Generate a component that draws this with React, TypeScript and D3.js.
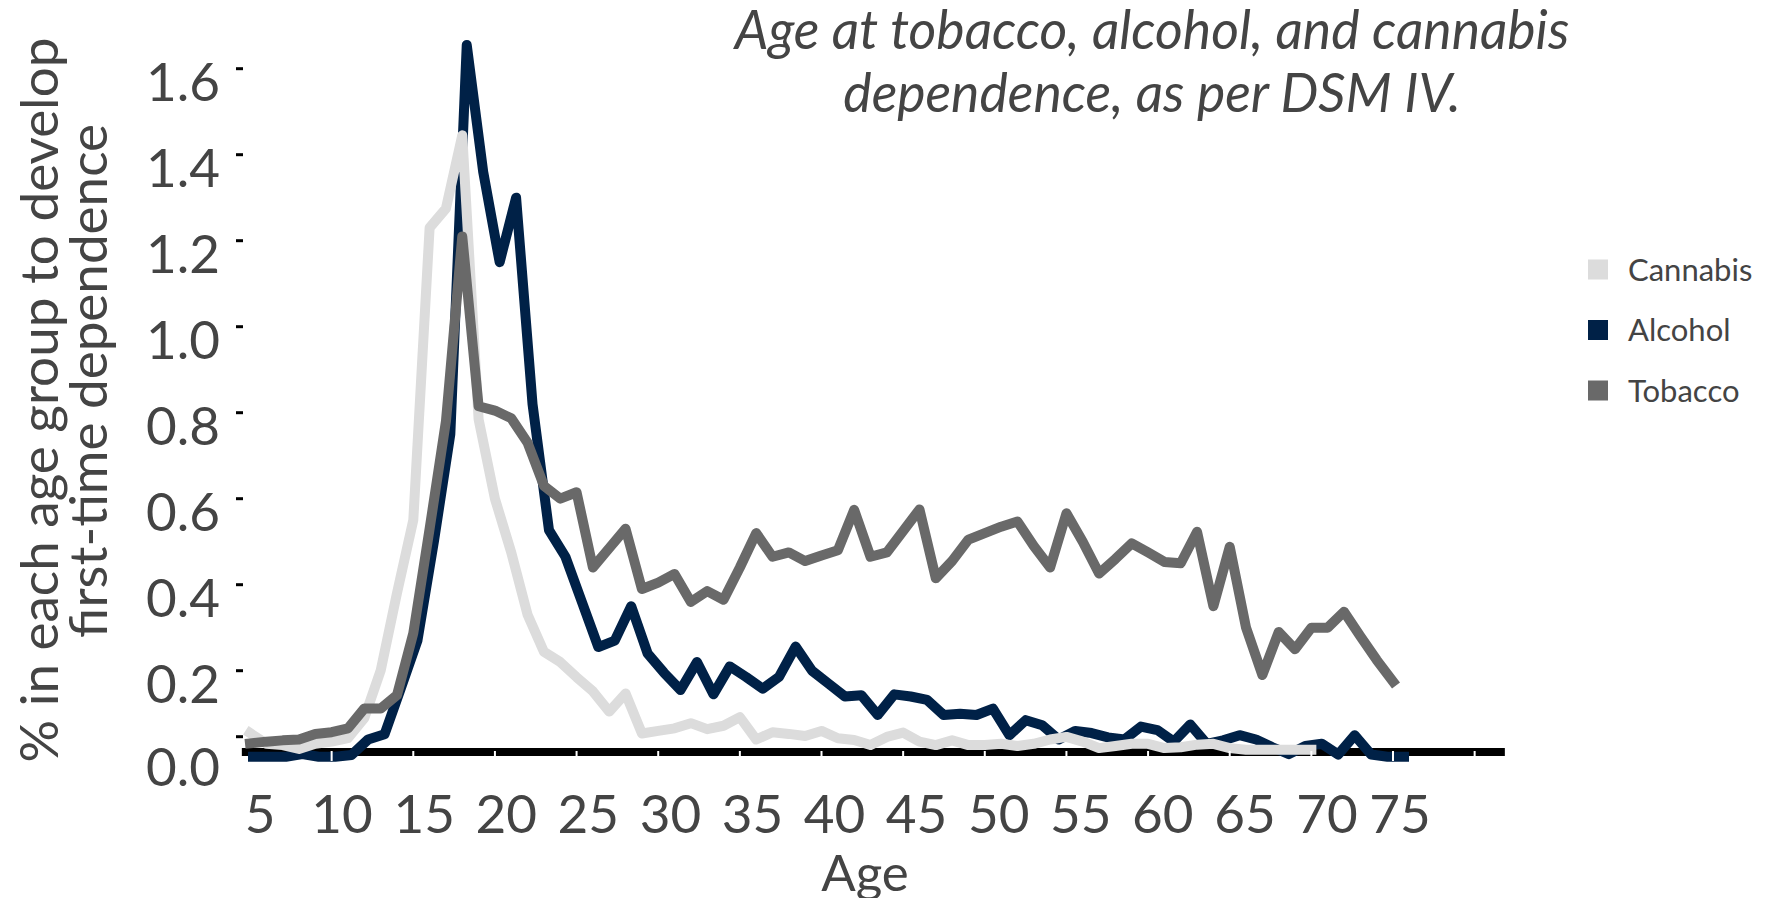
import React from "react";
import * as d3 from "d3";

// ---------- data ----------
const tobaccoAges = [5,6,7,8,9,10,11,12,13,14,15,16,17,18,19,20,21,22,23,24,25,26,27,28,29,30,31,32,33,34,35,36,37,38,39,40,41,42,43,44,45,46,47,48,49,50,51,52,53,54,55,56,57,58,59,60,61,62,63,64,65,66,67,68,69,70,71,72,73,74,75];
const tobaccoValues = [0.031,0.035,0.038,0.040,0.053,0.057,0.066,0.112,0.112,0.143,0.287,0.53,0.78,1.21,0.815,0.805,0.787,0.73,0.63,0.60,0.615,0.44,0.485,0.53,0.39,0.405,0.425,0.36,0.385,0.365,0.44,0.52,0.465,0.475,0.455,0.468,0.48,0.574,0.465,0.475,0.525,0.575,0.415,0.455,0.505,0.52,0.535,0.547,0.49,0.44,0.566,0.50,0.426,0.46,0.496,0.475,0.453,0.45,0.523,0.35,0.488,0.30,0.19,0.29,0.25,0.30,0.30,0.337,0.28,0.225,0.175];

const alcoholAges = [5,6,7,8,9,10,11,12,13,14,15,16,17,18,19,20,21,22,23,24,25,26,27,28,29,30,31,32,33,34,35,36,37,38,39,40,41,42,43,44,45,46,47,48,49,50,51,52,53,54,55,56,57,58,59,60,61,62,63,64,65,66,67,68,69,70,71,72,73,74,75];
const alcoholValues = [0,0,0,0.006,0,0,0.004,0.04,0.052,0.16,0.27,0.50,0.75,1.655,1.36,1.15,1.30,0.82,0.527,0.465,0.36,0.255,0.27,0.35,0.24,0.195,0.155,0.22,0.145,0.21,0.185,0.158,0.186,0.256,0.2,0.17,0.14,0.143,0.097,0.145,0.14,0.132,0.097,0.1,0.097,0.112,0.05,0.085,0.073,0.04,0.06,0.055,0.045,0.04,0.07,0.062,0.035,0.075,0.03,0.038,0.05,0.04,0.022,0.006,0.025,0.03,0.005,0.05,0.005,0,0];

const cannabisAges = [5,6,7,8,9,10,11,12,13,14,15,16,17,18,19,20,21,22,23,24,25,26,27,28,29,30,31,32,33,34,35,36,37,38,39,40,41,42,43,44,45,46,47,48,49,50,51,52,53,54,55,56,57,58,59,60,61,62,63,64,65,66,67,68,69,70];
const cannabisValues = [0.055,0.03,0.027,0.018,0.03,0.035,0.043,0.09,0.2,0.38,0.55,1.23,1.275,1.445,0.785,0.6,0.475,0.33,0.244,0.22,0.185,0.152,0.105,0.147,0.054,0.06,0.066,0.078,0.064,0.072,0.092,0.04,0.057,0.053,0.048,0.06,0.043,0.039,0.027,0.046,0.056,0.035,0.027,0.038,0.027,0.027,0.03,0.025,0.03,0.04,0.046,0.035,0.02,0.025,0.03,0.03,0.02,0.022,0.028,0.03,0.02,0.016,0.016,0.016,0.016,0.016];

const xTickValues = [5,10,15,20,25,30,35,40,45,50,55,60,65,70,75];
const xTickMarks = [10,15,20,25,30,35,40,45,50,55,60,65,70,75,80];
const yTickValues = [0,0.2,0.4,0.6,0.8,1.0,1.2,1.4,1.6];

const legendNames = ["Cannabis", "Alcohol", "Tobacco"];
const legendColors = ["#dcdcdc", "#002147", "#696969"];

const titleLines = ["Age at tobacco, alcohol, and cannabis", "dependence, as per DSM IV."];
const yTitleLines = ["% in each age group to develop", "first-time dependence"];

// ---------- layout ----------
const W = 1765;
const H = 898;
const FONT = "Lato, 'Open Sans', sans-serif";
const TEXT = "#444444";

export default function App() {
  const x = d3.scaleLinear().domain([5, 75]).range([250, 1393]);
  const xAlc = d3.scaleLinear().domain([5, 75]).range([253, 1404]);
  const xLab = d3.scaleLinear().domain([5, 70]).range([260, 1327]);
  const y = d3.scaleLinear().domain([0, 1.6]).range([756.7, 68.7]);

  const mk = (xs: d3.ScaleLinear<number, number>) =>
    d3.line<[number, number]>().x((d) => xs(d[0])).y((d) => y(d[1]));

  const tob = mk(x)(tobaccoAges.map((a, i) => [a, tobaccoValues[i]] as [number, number]));
  const alc = mk(xAlc)(alcoholAges.map((a, i) => [a, alcoholValues[i]] as [number, number]));
  const can = mk(x)(cannabisAges.map((a, i) => [a, cannabisValues[i]] as [number, number]));

  const lineStyle = {
    fill: "none",
    strokeWidth: 10,
    strokeLinejoin: "round" as const,
    strokeLinecap: "square" as const,
  };

  const axisY = y(0) - 4.7;

  return (
    <svg
      width={W}
      height={H}
      style={{ position: "absolute", left: 0, top: 0, display: "block", background: "#fff" }}
      fontFamily={FONT}
    >
      {/* title */}
      {titleLines.map((t, i) => (
        <text key={t} x={1152} y={49 + i * 63} textAnchor="middle" fontSize={53.5} fontStyle="italic" fill={TEXT}>
          {t}
        </text>
      ))}

      {/* y axis title */}
      {yTitleLines.map((t, i) => (
        <text
          key={t}
          transform={`translate(${58 + i * 49}, ${400 - i * 19}) rotate(-90)`}
          textAnchor="middle"
          fontSize={53}
          fill={TEXT}
        >
          {t}
        </text>
      ))}

      {/* y ticks */}
      {yTickValues.map((v) => {
        const ty = v === 0 ? y(0) - 20 : y(v);
        const ly = v === 0 ? y(0) + 8.5 : y(v) + 11.5;
        return (
          <g key={v}>
            <line x1={236} x2={243} y1={ty} y2={ty} stroke="#000" strokeWidth={3} />
            <text x={220} y={ly} textAnchor="end" dominantBaseline="central" fontSize={53} fill={TEXT}>
              {v.toFixed(1)}
            </text>
          </g>
        );
      })}

      {/* x tick labels */}
      {xTickValues.map((a) => (
        <text key={a} x={xLab(a) - (a === 75 ? 9 : 0)} y={833} textAnchor="middle" fontSize={53} fill={TEXT}>
          {a}
        </text>
      ))}

      <text x={865} y={891} textAnchor="middle" fontSize={51} fill={TEXT}>
        Age
      </text>

      {/* baseline */}
      <line x1={x(4.5)} x2={x(81.85)} y1={axisY} y2={axisY} stroke="#000" strokeWidth={8} />

      {/* series */}
      <path d={alc ?? ""} stroke={legendColors[1]} {...lineStyle} />
      <path d={can ?? ""} stroke={legendColors[0]} {...lineStyle} />
      <path d={tob ?? ""} stroke={legendColors[2]} {...lineStyle} />

      {/* white x tick marks */}
      {xTickMarks.map((a) => (
        <line key={a} x1={x(a)} x2={x(a)} y1={axisY - 1} y2={axisY + 9} stroke="#fff" strokeWidth={2} />
      ))}

      {/* legend */}
      {legendNames.map((n, i) => {
        const cy = 269.5 + i * 60.5;
        return (
          <g key={n}>
            <rect x={1588} y={cy - 10} width={20} height={20} fill={legendColors[i]} />
            <text x={1628} y={cy + 11} fontSize={31} fill={TEXT}>
              {n}
            </text>
          </g>
        );
      })}
    </svg>
  );
}
